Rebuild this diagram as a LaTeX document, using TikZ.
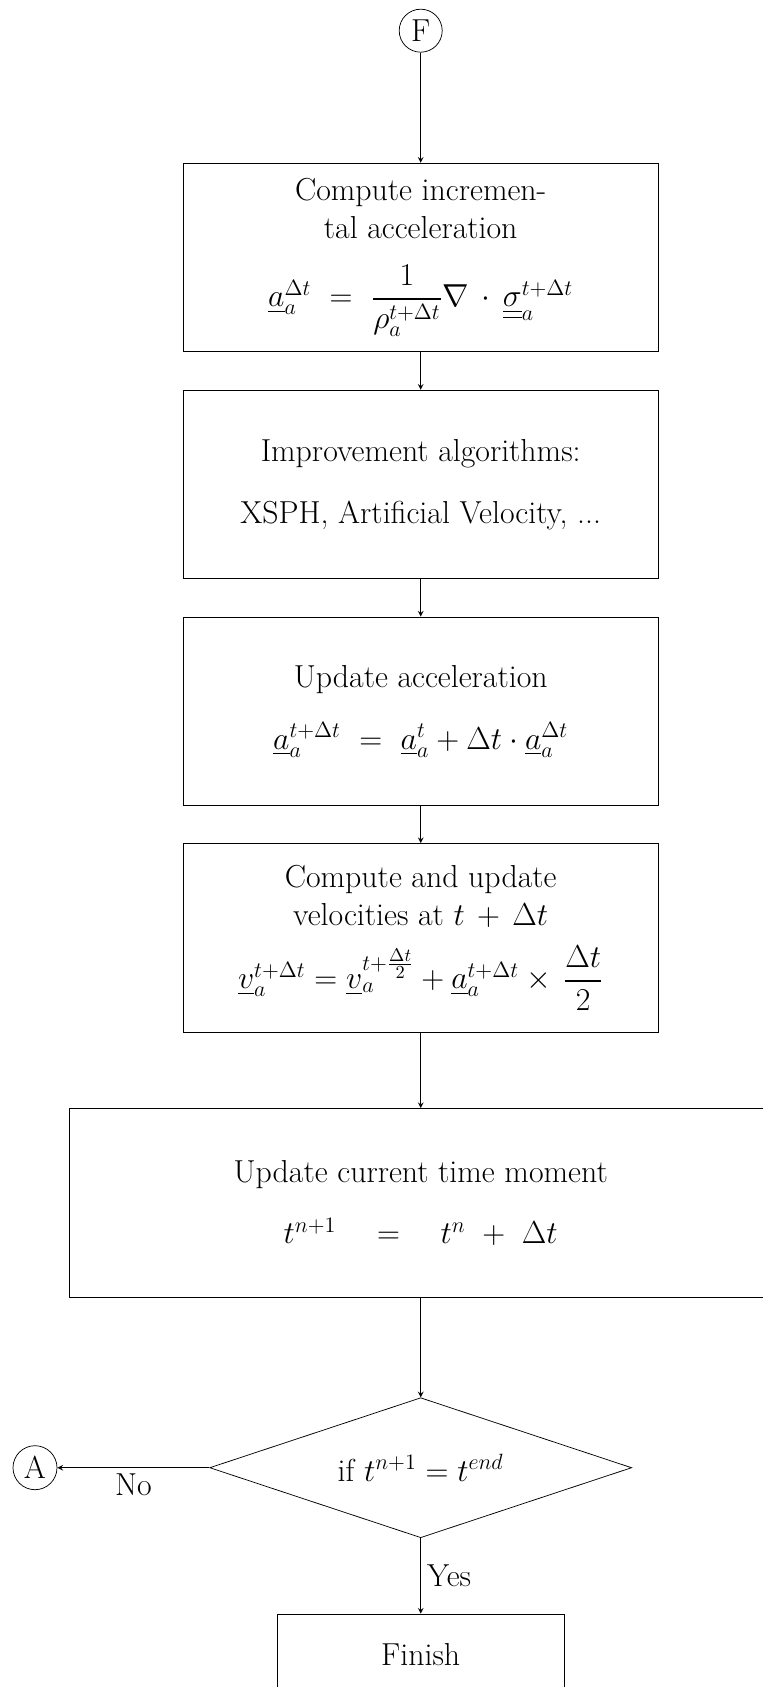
\documentclass[tikz,border=0pt]{standalone}
\usepackage{amsmath}
\usetikzlibrary{shapes.geometric,arrows}

\newcommand{\pxu}{0.5434pt}

\begin{document}
\begin{tikzpicture}[
    x=\pxu, y=-\pxu,
    every node/.style={font=\fontsize{17.28}{20.8}\selectfont},
    block/.style={
      rectangle,
      draw=black,
      align=center,
      minimum width=475.4*\pxu,
      minimum height=188.6*\pxu
    },
    connector/.style={
      circle,
      draw=black,
      inner sep=0pt,
      minimum size=43*\pxu
    },
    decision/.style={
      diamond,
      draw=black,
      aspect=3,
      inner sep=0pt,
      minimum width=422*\pxu,
      minimum height=140*\pxu
    },
    arr/.style={->,>=stealth}
]

\useasboundingbox (0,0) rectangle (762,1687);

\node[connector] (f) at (420.7,30.7) {F};

\node[block] (incacc) at (420.7,257.5) {Compute incremen-\\tal acceleration\\[13pt]
  $\underline{a}_a^{\Delta t}\ =\ \dfrac{1}{\rho_a^{t+\Delta t}}\nabla\,\cdot\,\underline{\underline{\sigma}}_a^{t+\Delta t}$};

\node[block] (improve) at (420.7,484.5) {Improvement algorithms:\\[12.7pt]XSPH, Artificial Velocity, ...};

\node[block] (updacc) at (420.7,711.3) {Update acceleration\\[12.7pt]
  $\underline{a}_a^{t+\Delta t}\ =\ \underline{a}_a^{t} + \Delta t\cdot\underline{a}_a^{\Delta t}$};

\node[block] (updvel) at (420.7,937.8) {Compute and update\\velocities at $t\,+\,\Delta t$\\[9pt]
  $\underline{v}_a^{t+\Delta t} = \underline{v}_a^{t+\frac{\Delta t}{2}} + \underline{a}_a^{t+\Delta t}\times\,\dfrac{\Delta t}{2}$};

\node[block, minimum width=701.8*\pxu] (updtime) at (420.7,1202.8) {Update current time moment\\[12.7pt]
  $t^{n+1}\quad=\quad t^{n}\ +\ \Delta t$};

\node[decision] (check) at (420.7,1467.7) {if $t^{n+1} = t^{end}$};

\node[connector, minimum size=44*\pxu] (a) at (35,1467.7) {A};

\node[block, minimum width=286.5*\pxu, minimum height=82*\pxu] (finish) at (420.7,1655) {Finish};

\draw[arr] (f) -- (incacc);
\draw[arr] (incacc) -- (improve);
\draw[arr] (improve) -- (updacc);
\draw[arr] (updacc) -- (updvel);
\draw[arr] (updvel) -- (updtime);
\draw[arr] (updtime) -- (check);
\draw[arr] (check.west) -- node[below] {No} (a);
\draw[arr] (check.south) -- node[right] {Yes} (finish);

\end{tikzpicture}
\end{document}
